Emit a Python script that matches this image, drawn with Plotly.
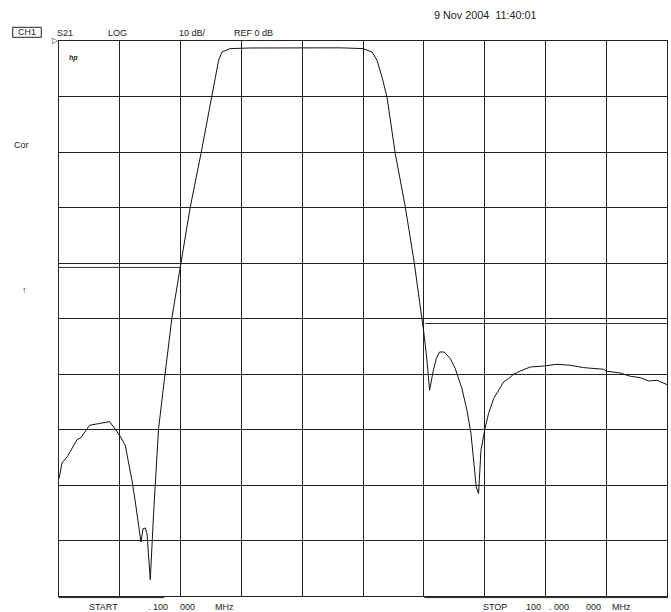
import plotly.graph_objects as go

# ---- data ----
freq_mhz = [0.1, 0.59, 1.51, 3.06, 3.71, 5.13, 6.61, 8.41, 10.06, 10.99, 11.54, 12.09,
            12.64, 13.57, 13.90, 14.28, 14.56, 15.10, 15.64, 15.92, 16.46, 17.40, 18.67,
            20.14, 21.67, 23.43, 25.24, 26.32, 26.88, 28.24, 31.53, 39.75, 46.32, 50.05,
            51.53, 52.35, 53.17, 53.99, 55.35, 57.00, 58.48, 59.46, 60.00, 60.56, 60.99,
            61.55, 62.09, 62.63, 63.41, 64.39, 65.21, 66.31, 67.13, 67.79, 68.22, 68.66,
            69.04, 69.43, 70.14, 70.68, 71.51, 72.33, 73.15, 73.97, 74.79, 75.89, 77.53,
            79.72, 81.92, 84.11, 86.29, 89.58, 90.14, 92.32, 93.97, 95.61, 96.97, 98.35, 100.0]
s21_db = [-78.85, -76.04, -74.83, -71.82, -71.46, -69.24, -68.94, -68.58, -71.05, -72.85,
          -76.04, -79.15, -83.06, -90.27, -87.86, -87.75, -88.76, -97.05, -85.15, -79.15,
          -69.84, -61.14, -49.73, -40.0, -29.91, -20.29, -10.09, -3.48, -1.98, -1.37, -1.26,
          -1.19, -1.23, -1.37, -1.98, -3.48, -6.49, -10.09, -20.29, -29.91, -40.0, -47.93,
          -52.13, -57.53, -62.94, -59.64, -57.23, -56.04, -56.04, -57.23, -59.03, -62.63,
          -66.54, -70.74, -75.55, -80.36, -81.55, -73.75, -69.55, -67.14, -64.43, -62.94,
          -61.44, -60.83, -60.05, -59.46, -58.74, -58.56, -58.25, -58.43, -58.85, -59.15,
          -59.51, -59.82, -60.41, -60.65, -61.26, -61.13, -61.91]

limit_low_x = [0.1, 20.03]
limit_low_y = [-40.8, -40.8]
limit_high_x = [60.28, 100.0]
limit_high_y = [-50.9, -50.9]

start_mhz = 0.1
stop_mhz = 100.0
ref_db = 0.0
db_per_div = 10.0
n_div = 10

# ---- layout geometry (body margin removed by post_script) ----
W, H = 671, 612
L, R, T, B = 59, 4, 41, 16
PW, PH = W - L - R, H - T - B


def px(x):
    return (x - L) / PW


def py(y):
    return (H - B - y) / PH


FONT = "Liberation Sans, Arial, sans-serif"
INK = "#222222"

fig = go.Figure()
fig.add_trace(go.Scatter(x=limit_low_x, y=limit_low_y, mode="lines",
                         line=dict(color="#333333", width=1), hoverinfo="skip"))
fig.add_trace(go.Scatter(x=limit_high_x, y=limit_high_y, mode="lines",
                         line=dict(color="#333333", width=1), hoverinfo="skip"))
fig.add_trace(go.Scatter(x=freq_mhz, y=s21_db, mode="lines",
                         line=dict(color="#111111", width=1)))

span = stop_mhz - start_mhz
fig.update_xaxes(range=[start_mhz, stop_mhz], tick0=start_mhz, dtick=span / n_div,
                 showgrid=True, gridcolor="#222222", gridwidth=1,
                 showline=True, linecolor="#222222", linewidth=1.2, mirror=True,
                 showticklabels=False, ticks="", zeroline=False)
fig.update_yaxes(range=[ref_db - db_per_div * n_div, ref_db], tick0=ref_db, dtick=db_per_div,
                 showgrid=True, gridcolor="#222222", gridwidth=1,
                 showline=True, linecolor="#222222", linewidth=1.2, mirror=True,
                 showticklabels=False, ticks="", zeroline=False)

anns = []


def text(t, x, y, size=9, anchor="left"):
    anns.append(dict(text=t, x=px(x), y=py(y), xref="paper", yref="paper",
                     xanchor=anchor, yanchor="middle", showarrow=False,
                     font=dict(family=FONT, size=size, color=INK)))


text("9 Nov 2004  11:40:01", 431.7, 14.7, size=10.8)
text("CH1", 27, 32.5, size=9, anchor="center")
text("S21", 55, 33.3)
text("LOG", 106, 33.3)
text("10 dB/", 176.7, 33.3)
text("REF 0 dB", 232.3, 33.3)
text("<b><i>hp</i></b>", 66.5, 58, size=7)
text("Cor", 12, 145)
text("<b>↑</b>", 20, 290, size=9)
text("▷", 50, 40.5, size=8)
text("START", 87.3, 606.7)
text(". 100", 145.7, 606.7)
text("000", 177.7, 606.7)
text("MHz", 212.7, 606.7)
text("STOP", 480.7, 606.7)
text("100", 524.3, 606.7)
text(". 000", 546.7, 606.7)
text("000", 584, 606.7)
text("MHz", 610, 606.7)

shapes = [
    dict(type="rect", xref="paper", yref="paper", x0=px(12.7), x1=px(41.3),
         y0=py(37.3), y1=py(27.3), line=dict(color=INK, width=1)),
    dict(type="line", xref="paper", yref="paper", x0=px(58.7), x1=px(164.3),
         y0=py(597.6), y1=py(597.6), line=dict(color=INK, width=1)),
    dict(type="line", xref="paper", yref="paper", x0=px(424.3), x1=px(668),
         y0=py(597.6), y1=py(597.6), line=dict(color=INK, width=1)),
]

fig.update_layout(width=W, height=H, margin=dict(l=L, r=R, t=T, b=B),
                  paper_bgcolor="white", plot_bgcolor="white", showlegend=False,
                  hovermode=False, annotations=anns, shapes=shapes)

fig.write_html("out.html",
               config={"displayModeBar": False, "staticPlot": True},
               post_script="document.documentElement.style.overflow='hidden';"
                           "document.body.style.overflow='hidden';"
                           "document.body.style.margin='0';"
                           "document.body.style.padding='0';")
